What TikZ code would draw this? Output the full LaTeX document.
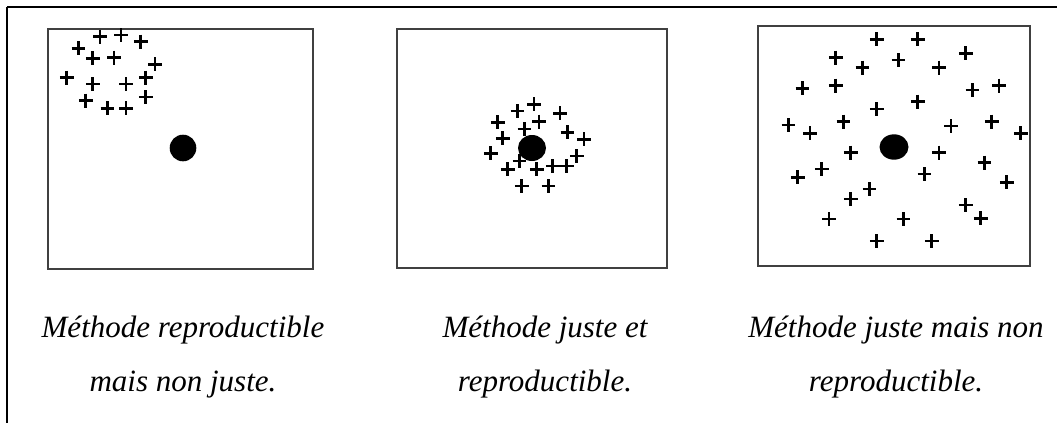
\documentclass[tikz,border=0pt]{standalone}
\usepackage{fontspec}
\setmainfont{Liberation Serif}
\begin{document}
\begin{tikzpicture}[x=1pt,y=-1pt,
  frame/.style={line width=2.8pt,black},
  panel/.style={draw=black!75,line width=1.5pt},
  target/.style={fill=black},
  plusmark/.style={line width=2.5pt,black},
  caption/.style={anchor=base,inner sep=0pt,font=\fontsize{31}{37}\selectfont\itshape}]
\useasboundingbox (0,0) rectangle (1057,423);
% outer frame (top and left)
\draw[frame] (7,7) -- (1057,7);
\draw[frame] (7,7) -- (7,423);
% panels
\draw[panel] (48,29) rectangle (313,269);
\draw[panel] (397,29) rectangle (667,268);
\draw[panel] (758,26) rectangle (1030,266);
% targets
\fill[target] (183,148) circle (13.3);
\fill[target] (532,148) ellipse [x radius=14,y radius=13];
\fill[target] (894,147) ellipse [x radius=14.5,y radius=12.7];
% plus marks
\newcommand\pmark[2]{\draw[plusmark] (#1-6.8,#2) -- (#1+6.8,#2) (#1,#2-7) -- (#1,#2+7);}
\foreach \x/\y in {100/36.7,121/35,140.7/41.7,78.3/48.3,92.7/58.3,114/57.7,155/64.3,66.7/77.7,92.7/84,126/84,145.7/77.7,85.7/100.7,107.3/108.3,126/108.3,145.7/97}{\pmark{\x}{\y}}
\foreach \x/\y in {534/104.3,517.3/111,560/113.3,497.7/122.3,539/121.7,524.3/129,502.7/138.3,567.3/132.3,584/139.3,490.7/153.3,519.3/161,576.7/156,507.7/169.3,536.7/169.3,552.7/166,566.7/166,521.7/186,548.3/186}{\pmark{\x}{\y}}
\foreach \x/\y in {876.7/39.3,917.7/39.3,835.7/57.7,898.3/60,862.3/67.7,939/67.7,965.7/53.3,802.3/88.3,835.7/85.7,972.3/90,999/85.7,876.7/109,917.7/101.7,788.3/125,810/133.3,843.3/121.7,951/126,991.7/121.7,1020.7/133.3,850.7/152.7,939/152.7,821.7/169,797.7/177.3,924.3/174,984.3/162.7,1006.7/182.3,869.3/189,850.7/199,965.7/205,980.7/218.3,829/219,903.3/219,876.7/241,931.7/241}{\pmark{\x}{\y}}
% captions
\node[caption] (c1a) at (183,337) {Méthode reproductible};
\node[caption] (c1b) at (183,391) {mais non juste.};
\node[caption] (c2a) at (545,337) {Méthode juste et};
\node[caption] (c2b) at (545,391) {reproductible.};
\node[caption] (c3a) at (896,337) {Méthode juste mais non};
\node[caption] (c3b) at (896,391) {reproductible.};
\end{tikzpicture}
\end{document}
